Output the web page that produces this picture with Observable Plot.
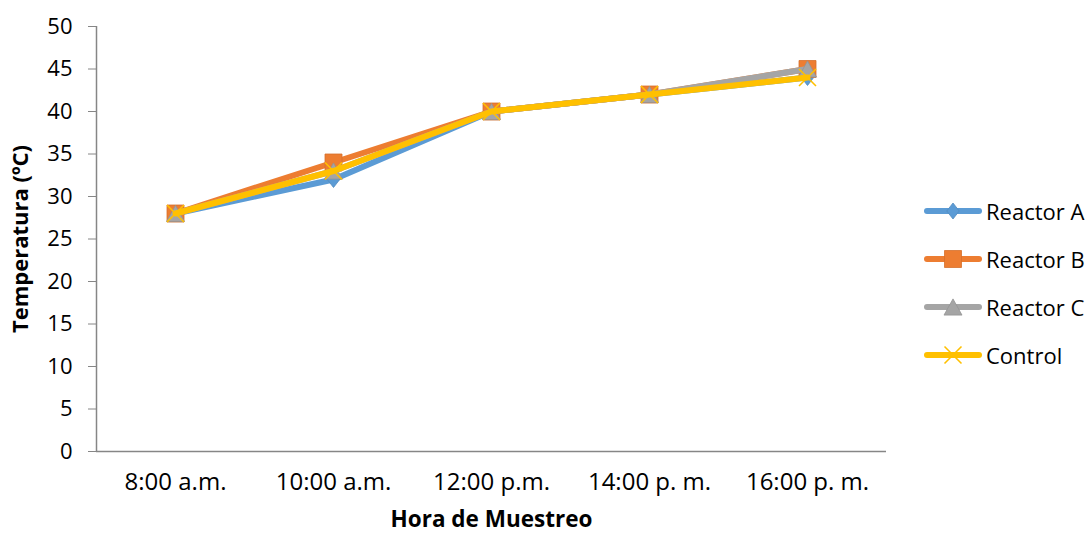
<!DOCTYPE html>
<html>
<head>
<meta charset="utf-8">
<script src="https://cdn.jsdelivr.net/npm/d3@7"></script>
<script src="https://cdn.jsdelivr.net/npm/@observablehq/plot@0.6"></script>
<style>
  body { margin: 0; background: #fff; }
  #chart { position: relative; width: 1091px; height: 533px; font-family: "Open Sans", sans-serif; }
  #legend { position: absolute; left: 923px; top: 187px; }
  .row { display: flex; align-items: center; height: 48px; font-size: 22px; color: #000; }
  .row svg { margin-right: 3px; }
</style>
</head>
<body>
<div id="chart"><div id="legend"></div></div>
<script>
// Sampling times and temperatures (ºC)
const horas = ["8:00 a.m.", "10:00 a.m.", "12:00 p.m.", "14:00 p. m.", "16:00 p. m."];
const reactorA = [28, 32, 40, 42, 44];
const reactorB = [28, 34, 40, 42, 45];
const reactorC = [28, 33, 40, 42, 45];
const control  = [28, 33, 40, 42, 44];
const yTicks = [0, 5, 10, 15, 20, 25, 30, 35, 40, 45, 50];

const seriesNames = ["Reactor A", "Reactor B", "Reactor C", "Control"];
const seriesValues = [reactorA, reactorB, reactorC, control];
const seriesColors = ["#5B9BD5", "#ED7D31", "#A5A5A5", "#FFC000"];

// Marker shapes; r is recovered from the size Plot passes in (size = π r²)
const rOf = size => Math.sqrt(size / Math.PI);
const diamond = { draw(ctx, size) { const r = rOf(size), w = r * 0.78;
  ctx.moveTo(0, -r); ctx.lineTo(w, 0); ctx.lineTo(0, r); ctx.lineTo(-w, 0); ctx.closePath(); } };
const square = { draw(ctx, size) { const r = rOf(size);
  ctx.moveTo(-r, -r); ctx.lineTo(r, -r); ctx.lineTo(r, r); ctx.lineTo(-r, r); ctx.closePath(); } };
const triangle = { draw(ctx, size) { const r = rOf(size), h = r * 0.9;
  ctx.moveTo(0, -h); ctx.lineTo(r, h); ctx.lineTo(-r, h); ctx.closePath(); } };
const cross = { draw(ctx, size) { const r = rOf(size);
  ctx.moveTo(-r, -r); ctx.lineTo(r, r); ctx.moveTo(r, -r); ctx.lineTo(-r, r); } };

const markers = [
  { symbol: diamond, r: 8, filled: true },
  { symbol: square, r: 8.5, filled: true },
  { symbol: triangle, r: 9, filled: true },
  { symbol: cross, r: 8.5, filled: false }
];

const rows = seriesNames.map((name, s) =>
  seriesValues[s].map((v, i) => ({ serie: name, i, v })));

// Each series is drawn whole (line, then its markers) before the next one
const seriesMarks = rows.flatMap((data, s) => {
  const m = markers[s];
  return [
    Plot.line(data, { x: "i", y: "v", stroke: seriesColors[s], strokeWidth: 6, strokeLinejoin: "round", strokeLinecap: "round" }),
    Plot.dot(data, m.filled
      ? { x: "i", y: "v", symbol: () => m.symbol, r: m.r, fill: seriesColors[s], stroke: d3.color(seriesColors[s]).darker(0.3).formatHex(), strokeWidth: 0.8 }
      : { x: "i", y: "v", symbol: () => m.symbol, r: m.r, fill: "none", stroke: seriesColors[s], strokeWidth: 1.6 })
  ];
});

const chart = Plot.plot({
  width: 1091,
  height: 533,
  marginLeft: 96,
  marginRight: 205,
  marginTop: 26,
  marginBottom: 82,
  style: { fontFamily: "'Open Sans', sans-serif", fontSize: "22px", color: "#000", background: "#fff" },
  x: { type: "linear", domain: [-0.5, horas.length - 0.5] },
  y: { domain: [0, 50] },
  symbol: { type: "identity" },
  marks: [
    Plot.axisY({ ticks: yTicks, tickSize: 8, tickPadding: 16, stroke: "#868686", fill: "#000", label: null, fontSize: 22 }),
    Plot.axisX({ ticks: d3.range(horas.length), tickFormat: i => horas[i], tickSize: 0, tickPadding: 21, label: null, fontSize: 24, fill: "#000" }),
    Plot.ruleX([-0.5], { stroke: "#868686", strokeWidth: 1.5 }),
    Plot.ruleY([0], { stroke: "#868686", strokeWidth: 1.5 }),
    ...seriesMarks,
    Plot.text(["Temperatura (ºC)"], { frameAnchor: "left", dx: -76, rotate: -90, textAnchor: "middle", lineAnchor: "middle", text: d => d, fontWeight: "bold", fontSize: 22, fill: "#000" }),
    Plot.text(["Hora de Muestreo"], { frameAnchor: "bottom", dy: 68, textAnchor: "middle", lineAnchor: "middle", text: d => d, fontWeight: "bold", fontSize: 22.5, fill: "#000" })
  ]
});

const root = document.getElementById("chart");
root.insertBefore(chart, root.firstChild);

// Legend: line swatch with centred marker, then the series name
const legend = d3.select("#legend");
seriesNames.forEach((name, s) => {
  const m = markers[s];
  const row = legend.append("div").attr("class", "row");
  const svg = row.append("svg").attr("width", 60).attr("height", 24);
  svg.append("line").attr("x1", 4).attr("x2", 56).attr("y1", 12).attr("y2", 12)
    .attr("stroke", seriesColors[s]).attr("stroke-width", 6).attr("stroke-linecap", "round");
  const p = svg.append("path")
    .attr("transform", "translate(30,12)")
    .attr("d", d3.symbol(m.symbol, Math.PI * m.r * m.r)());
  if (m.filled) p.attr("fill", seriesColors[s]).attr("stroke", d3.color(seriesColors[s]).darker(0.3).formatHex()).attr("stroke-width", 0.8);
  else p.attr("fill", "none").attr("stroke", seriesColors[s]).attr("stroke-width", 1.6);
  row.append("span").text(name);
});
</script>
</body>
</html>
